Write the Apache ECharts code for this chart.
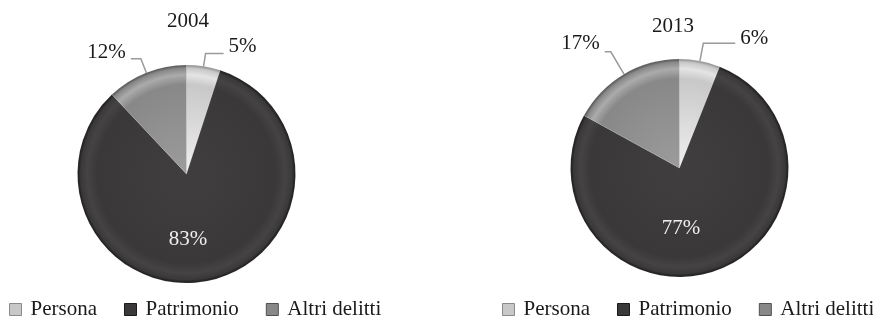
<!DOCTYPE html>
<html>
<head>
<meta charset="utf-8">
<script src="https://cdn.jsdelivr.net/npm/echarts@6/dist/echarts.min.js"></script>
<style>
  html, body { margin: 0; padding: 0; background: #fff; }
  #chart { width: 873px; height: 324px; }
</style>
</head>
<body>
<div id="chart"></div>
<script>
// Categories and shares (%) for the two years
const categories = ['Persona', 'Patrimonio', 'Altri delitti'];
const years = ['2004', '2013'];
const values2004 = [5, 83, 12];
const values2013 = [6, 77, 17];

const FONT = 'Liberation Serif';
const FONT_SIZE = 21;

// Base tones for each category (light, dark, mid grey)
const baseTones = [
  { light: '#f0f0f0', base: '#c8c8c8', rim: '#e4e4e4', edge: '#8a8a8a' },
  { light: '#403e3e', base: '#3a3838', rim: '#454343', edge: '#1a1a1a' },
  { light: '#9c9c9c', base: '#888888', rim: '#ababab', edge: '#505050' }
];

// Bevelled look: radial gradient anchored at the pie centre
function bevel(tone, cx, cy, r) {
  return {
    type: 'radial', x: cx, y: cy, r: r, global: true,
    colorStops: [
      { offset: 0, color: tone.light },
      { offset: 0.82, color: tone.base },
      { offset: 0.91, color: tone.rim },
      { offset: 0.97, color: tone.base },
      { offset: 1, color: tone.edge }
    ]
  };
}

// lines[i] = [labelLine length, length2, height of the spacer line under the label]
function pieSeries(name, values, cx, cy, r, lines, innerOffset) {
  return {
    name: name,
    type: 'pie',
    center: [cx, cy],
    radius: r,
    startAngle: 90,
    clockwise: true,
    avoidLabelOverlap: false,
    silent: true,
    label: {
      show: true,
      position: 'outside',
      fontFamily: FONT,
      fontSize: FONT_SIZE,
      color: '#1a1a1a',
      lineHeight: 21
    },
    labelLine: {
      show: true,
      lineStyle: { color: '#9a9a9a', width: 1.5 },
      smooth: false
    },
    data: values.map((v, i) => {
      const item = {
        name: categories[i],
        value: v,
        itemStyle: {
          color: bevel(baseTones[i], cx, cy, r),
          borderColor: 'rgba(255,255,255,0.2)',
          borderWidth: 0.5
        }
      };
      if (i === 1) {
        item.label = { position: 'inside', formatter: '{c}%', color: '#eeeeee', offset: innerOffset };
        item.labelLine = { show: false };
      } else {
        // a blank spacer line lifts the percentage above the leader line
        item.label = {
          formatter: '{c}%\n{gap|}',
          rich: { gap: { lineHeight: lines[i][2], height: lines[i][2], fontSize: 1 } }
        };
        item.labelLine = { length: lines[i][0], length2: lines[i][1] };
      }
      return item;
    })
  };
}

const legendData = categories.map((c, i) => ({
  name: c,
  itemStyle: { color: baseTones[i].base, borderColor: baseTones[i].edge, borderWidth: 1 }
}));

function legendAt(left) {
  return {
    left: left,
    top: 299,
    width: 390,
    orient: 'horizontal',
    icon: 'rect',
    itemWidth: 12,
    itemHeight: 12,
    itemGap: 27,
    padding: 0,
    selectedMode: false,
    textStyle: { fontFamily: FONT, fontSize: FONT_SIZE, color: '#1a1a1a', padding: [0, 0, 0, 4] },
    data: legendData
  };
}

const titleStyle = { fontFamily: FONT, fontSize: FONT_SIZE, fontWeight: 'normal', color: '#1a1a1a' };

const chart = echarts.init(document.getElementById('chart'));
chart.setOption({
  animation: false,
  backgroundColor: '#ffffff',
  title: [
    { text: years[0], left: 188, top: 11, textAlign: 'center', padding: 0, textStyle: titleStyle },
    { text: years[1], left: 673, top: 16, textAlign: 'center', padding: 0, textStyle: titleStyle }
  ],
  legend: [legendAt(9), legendAt(502)],
  series: [
    pieSeries(years[0], values2004, 186.5, 174, 109, [[13, 18, 14], null, [15, 10, 12]], [-11, 9]),
    pieSeries(years[1], values2013, 679.5, 168, 109, [[18, 32, 10], null, [26, 6, 16]], [-18, 6])
  ]
});
</script>
</body>
</html>
